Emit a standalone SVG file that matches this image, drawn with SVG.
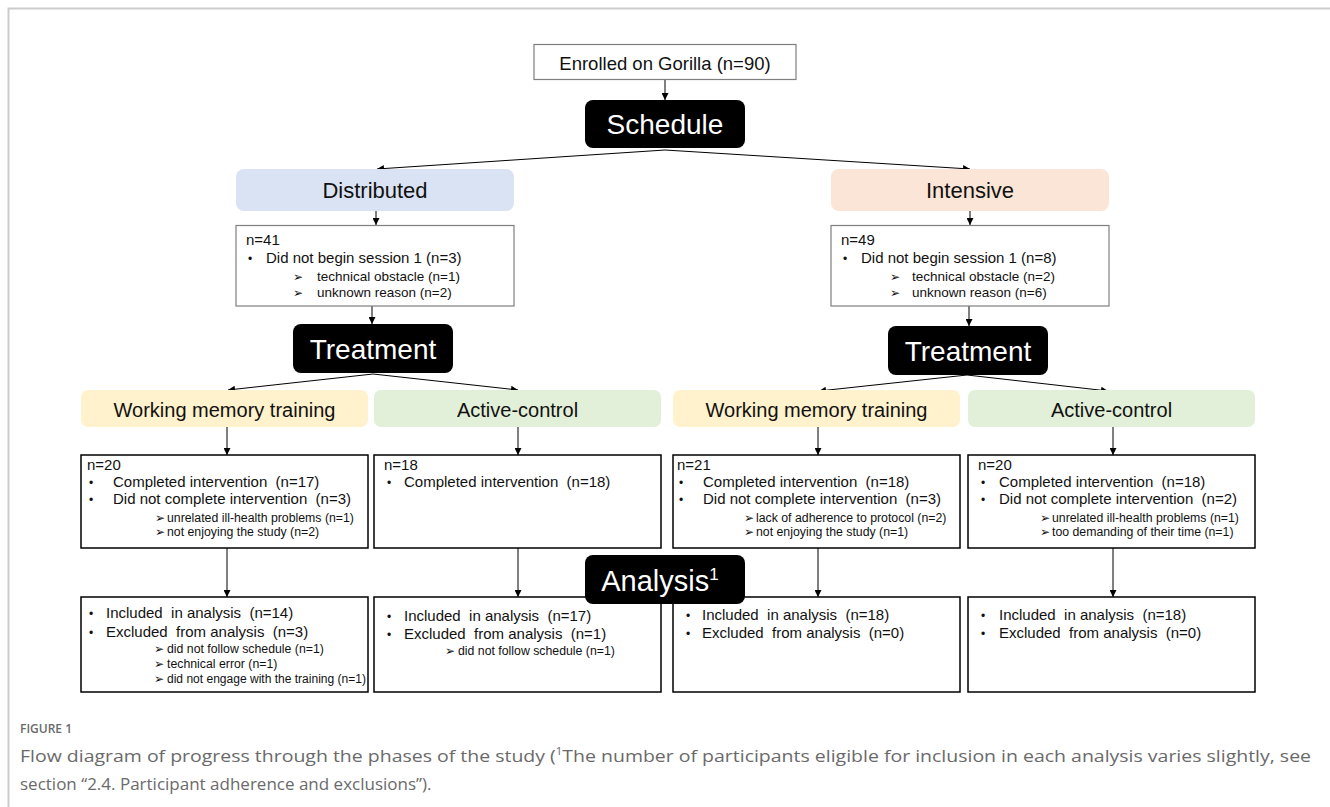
<svg xmlns="http://www.w3.org/2000/svg" width="1330" height="807" viewBox="0 0 1330 807">
<style>
text{font-family:"Liberation Sans",Arial,sans-serif;fill:#111}
.big{font-size:28px;fill:#fff;text-anchor:middle}
.lab{font-size:20px;text-anchor:middle}
.t{font-size:15px}
.s{font-size:12.3px}
.s2{font-size:13.5px}
.ar{font-family:"DejaVu Sans",sans-serif;font-size:12px}
.bl{font-size:12px}
.graybox{fill:#fff;stroke:#7f7f7f;stroke-width:1.2}
.box{fill:#fff;stroke:#000;stroke-width:1.5}
.blk{fill:#000}
.cap{font-family:"Open Sans","Noto Sans",sans-serif;fill:#6a6a6a}
.conn line{stroke:#000;stroke-width:1}
</style>
<defs>
<marker id="ah" viewBox="0 0 10 10" refX="10" refY="5" markerWidth="8" markerHeight="7" markerUnits="userSpaceOnUse" orient="auto">
<path d="M0,0 L10,5 L0,10 z" fill="#000"/>
</marker>
</defs>
<rect width="1330" height="807" fill="#fff"/>
<path d="M8.5,807 V8.5 H1330" fill="none" stroke="#cccccc" stroke-width="2"/>

<g id="connectors" class="conn">
<line x1="665" y1="79" x2="665" y2="100" marker-end="url(#ah)"/>
<line x1="665" y1="150" x2="377" y2="169" marker-end="url(#ah)"/>
<line x1="665" y1="150" x2="970" y2="169" marker-end="url(#ah)"/>
<line x1="376" y1="211" x2="376" y2="225" marker-end="url(#ah)"/>
<line x1="970" y1="211" x2="970" y2="225" marker-end="url(#ah)"/>
<line x1="372" y1="306" x2="372" y2="324" marker-end="url(#ah)"/>
<line x1="969" y1="306" x2="969" y2="326" marker-end="url(#ah)"/>
<line x1="373" y1="374" x2="228" y2="390" marker-end="url(#ah)"/>
<line x1="373" y1="374" x2="518" y2="390" marker-end="url(#ah)"/>
<line x1="967" y1="375" x2="819" y2="391" marker-end="url(#ah)"/>
<line x1="967" y1="375" x2="1108" y2="391" marker-end="url(#ah)"/>
<line x1="227" y1="427" x2="227" y2="455" marker-end="url(#ah)"/>
<line x1="518" y1="427" x2="518" y2="455" marker-end="url(#ah)"/>
<line x1="818" y1="427" x2="818" y2="455" marker-end="url(#ah)"/>
<line x1="1113" y1="427" x2="1113" y2="455" marker-end="url(#ah)"/>
<line x1="227" y1="548" x2="227" y2="597" marker-end="url(#ah)"/>
<line x1="518" y1="548" x2="518" y2="597" marker-end="url(#ah)"/>
<line x1="818" y1="548" x2="818" y2="597" marker-end="url(#ah)"/>
<line x1="1113" y1="548" x2="1113" y2="597" marker-end="url(#ah)"/>
</g>

<g id="enrolled">
<rect class="graybox" x="534" y="44.5" width="262" height="35"/>
<text x="665" y="70" text-anchor="middle" style="font-size:18.5px">Enrolled on Gorilla (n=90)</text>
</g>

<g id="schedule">
<rect class="blk" x="585" y="100" width="160" height="48" rx="8"/>
<text class="big" x="665" y="134">Schedule</text>
</g>

<g id="distributed">
<rect x="236" y="169" width="278" height="42" rx="8" fill="#dae3f3"/>
<text x="375" y="198" text-anchor="middle" style="font-size:22px">Distributed</text>
</g>

<g id="intensive">
<rect x="831" y="169" width="278" height="42" rx="8" fill="#fbe5d6"/>
<text x="970" y="198" text-anchor="middle" style="font-size:22px">Intensive</text>
</g>

<g id="dist-n41">
<rect class="graybox" x="236" y="225.5" width="278" height="80.5"/>
<text class="t" x="246" y="245">n=41</text>
<text class="bl" x="248" y="263">•</text>
<text class="t" x="266" y="263">Did not begin session 1 (n=3)</text>
<text class="ar" x="293" y="281">➢</text>
<text class="s2" x="317" y="281">technical obstacle (n=1)</text>
<text class="ar" x="293" y="297">➢</text>
<text class="s2" x="317" y="297">unknown reason (n=2)</text>
</g>

<g id="int-n49">
<rect class="graybox" x="831" y="225.5" width="278" height="80.5"/>
<text class="t" x="841" y="245">n=49</text>
<text class="bl" x="843" y="263">•</text>
<text class="t" x="861" y="263">Did not begin session 1 (n=8)</text>
<text class="ar" x="890" y="281">➢</text>
<text class="s2" x="912" y="281">technical obstacle (n=2)</text>
<text class="ar" x="890" y="297">➢</text>
<text class="s2" x="912" y="297">unknown reason (n=6)</text>
</g>

<g id="treatment-left">
<rect class="blk" x="293" y="324" width="160" height="49" rx="8"/>
<text class="big" x="373" y="359">Treatment</text>
</g>

<g id="treatment-right">
<rect class="blk" x="888" y="326" width="160" height="49" rx="8"/>
<text class="big" x="968" y="361">Treatment</text>
</g>

<g id="wm-left">
<rect x="81" y="390" width="287" height="37" rx="7" fill="#fff2cc"/>
<text class="lab" x="224.5" y="417">Working memory training</text>
</g>
<g id="ac-left">
<rect x="374" y="390" width="287" height="37" rx="7" fill="#e2f0d9"/>
<text class="lab" x="517.5" y="417">Active-control</text>
</g>
<g id="wm-right">
<rect x="673" y="390" width="287" height="37" rx="7" fill="#fff2cc"/>
<text class="lab" x="816.5" y="417">Working memory training</text>
</g>
<g id="ac-right">
<rect x="968" y="390" width="287" height="37" rx="7" fill="#e2f0d9"/>
<text class="lab" x="1111.5" y="417">Active-control</text>
</g>

<g id="wm-left-n20">
<rect class="box" x="81" y="455" width="287" height="93"/>
<text class="t" x="87" y="470">n=20</text>
<text class="bl" x="89" y="487">•</text>
<text class="t" x="113" y="487">Completed intervention&#160; (n=17)</text>
<text class="bl" x="89" y="504">•</text>
<text class="t" x="113" y="504">Did not complete intervention&#160; (n=3)</text>
<text class="ar" x="155" y="521.5">➢</text>
<text class="s" x="167" y="521.5">unrelated ill-health problems (n=1)</text>
<text class="ar" x="155" y="536">➢</text>
<text class="s" x="167" y="536">not enjoying the study (n=2)</text>
</g>

<g id="ac-left-n18">
<rect class="box" x="374" y="455" width="287" height="93"/>
<text class="t" x="384" y="470">n=18</text>
<text class="bl" x="387" y="487">•</text>
<text class="t" x="404" y="487">Completed intervention&#160; (n=18)</text>
</g>

<g id="wm-right-n21">
<rect class="box" x="673" y="455" width="287" height="93"/>
<text class="t" x="677" y="470">n=21</text>
<text class="bl" x="679" y="487">•</text>
<text class="t" x="703" y="487">Completed intervention&#160; (n=18)</text>
<text class="bl" x="679" y="504">•</text>
<text class="t" x="703" y="504">Did not complete intervention&#160; (n=3)</text>
<text class="ar" x="744" y="521.5">➢</text>
<text class="s" x="756" y="521.5">lack of adherence to protocol (n=2)</text>
<text class="ar" x="744" y="536">➢</text>
<text class="s" x="756" y="536">not enjoying the study (n=1)</text>
</g>

<g id="ac-right-n20">
<rect class="box" x="968" y="455" width="287" height="93"/>
<text class="t" x="978" y="470">n=20</text>
<text class="bl" x="981" y="487">•</text>
<text class="t" x="999" y="487">Completed intervention&#160; (n=18)</text>
<text class="bl" x="981" y="504">•</text>
<text class="t" x="999" y="504">Did not complete intervention&#160; (n=2)</text>
<text class="ar" x="1040" y="521.5">➢</text>
<text class="s" x="1052" y="521.5">unrelated ill-health problems (n=1)</text>
<text class="ar" x="1040" y="536">➢</text>
<text class="s" x="1052" y="536">too demanding of their time (n=1)</text>
</g>

<g id="wm-left-analysis">
<rect class="box" x="81" y="597" width="287" height="95"/>
<text class="bl" x="89" y="618">•</text>
<text class="t" x="106" y="618">Included&#160; in analysis&#160; (n=14)</text>
<text class="bl" x="89" y="637">•</text>
<text class="t" x="106" y="637">Excluded&#160; from analysis&#160; (n=3)</text>
<text class="ar" x="154" y="652.5">➢</text>
<text class="s" x="167" y="652.5">did not follow schedule (n=1)</text>
<text class="ar" x="154" y="667.5">➢</text>
<text class="s" x="167" y="667.5">technical error (n=1)</text>
<text class="ar" x="154" y="682.5">➢</text>
<text class="s" x="167" y="682.5" textLength="199" lengthAdjust="spacingAndGlyphs">did not engage with the training (n=1)</text>
</g>

<g id="ac-left-analysis">
<rect class="box" x="374" y="597" width="287" height="95"/>
<text class="bl" x="387" y="621">•</text>
<text class="t" x="404" y="621">Included&#160; in analysis&#160; (n=17)</text>
<text class="bl" x="387" y="639">•</text>
<text class="t" x="404" y="639">Excluded&#160; from analysis&#160; (n=1)</text>
<text class="ar" x="445" y="655">➢</text>
<text class="s" x="458" y="655">did not follow schedule (n=1)</text>
</g>

<g id="wm-right-analysis">
<rect class="box" x="673" y="597" width="287" height="95"/>
<text class="bl" x="686" y="620">•</text>
<text class="t" x="702" y="620">Included&#160; in analysis&#160; (n=18)</text>
<text class="bl" x="686" y="638">•</text>
<text class="t" x="702" y="638">Excluded&#160; from analysis&#160; (n=0)</text>
</g>

<g id="ac-right-analysis">
<rect class="box" x="968" y="597" width="287" height="95"/>
<text class="bl" x="981" y="620">•</text>
<text class="t" x="999" y="620">Included&#160; in analysis&#160; (n=18)</text>
<text class="bl" x="981" y="638">•</text>
<text class="t" x="999" y="638">Excluded&#160; from analysis&#160; (n=0)</text>
</g>

<g id="analysis">
<rect class="blk" x="585" y="555" width="160" height="49" rx="8"/>
<text class="big" x="660" y="591" style="font-size:29px">Analysis<tspan dy="-11" style="font-size:17px">1</tspan></text>
</g>

<g id="caption">
<text class="cap" x="20" y="733" style="font-size:12px;font-weight:600" textLength="52" lengthAdjust="spacingAndGlyphs">FIGURE 1</text>
<text class="cap" x="20" y="762" style="font-size:17px" textLength="1291" lengthAdjust="spacingAndGlyphs">Flow diagram of progress through the phases of the study (<tspan dy="-7" style="font-size:10px">1</tspan><tspan dy="7">The number of participants eligible for inclusion in each analysis varies slightly, see</tspan></text>
<text class="cap" x="20" y="790" style="font-size:17px">section “2.4. Participant adherence and exclusions”).</text>
</g>
</svg>
